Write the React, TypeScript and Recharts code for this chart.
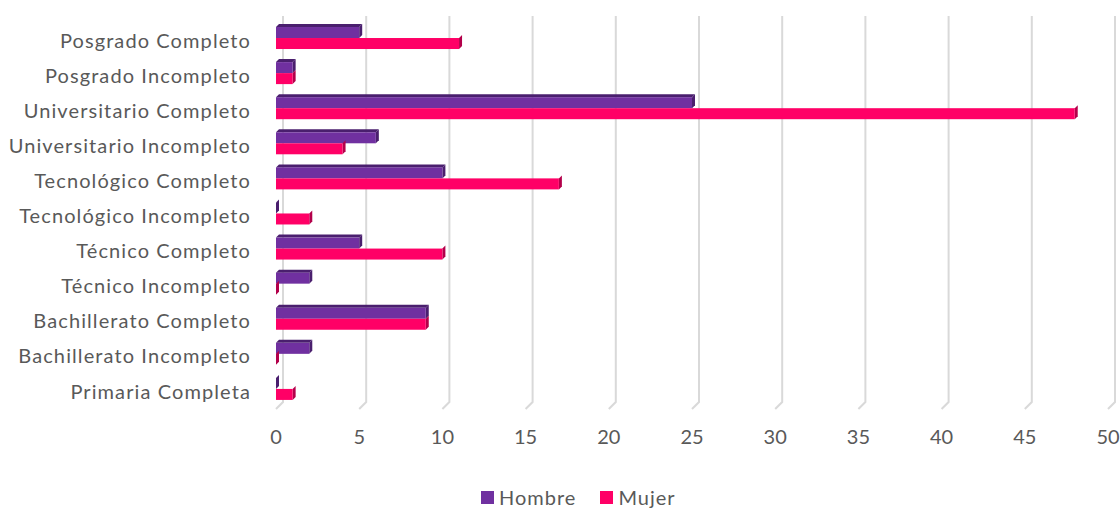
import { BarChart, Bar, XAxis, YAxis, CartesianGrid, Legend } from 'recharts';

// Nivel educativo por sexo
const CATEGORIES = [
  'Posgrado Completo',
  'Posgrado Incompleto',
  'Universitario Completo',
  'Universitario Incompleto',
  'Tecnológico Completo',
  'Tecnológico Incompleto',
  'Técnico Completo',
  'Técnico Incompleto',
  'Bachillerato Completo',
  'Bachillerato Incompleto',
  'Primaria Completa',
];
const HOMBRE = [5, 1, 25, 6, 10, 0, 5, 2, 9, 2, 0];
const MUJER = [11, 1, 48, 4, 17, 2, 10, 0, 9, 0, 1];
const X_TICKS = [0, 5, 10, 15, 20, 25, 30, 35, 40, 45, 50];

const SERIES = [
  { key: 'Hombre', color: '#7030A0', dark: '#4A1F6E', top: true },
  { key: 'Mujer', color: '#FF0066', dark: '#B3004A', top: false },
];

const FONT = 'Lato, "Open Sans", sans-serif';
const TEXT = '#595959';
const DEPTH = 3;
const WALL = 7;

const data = CATEGORIES.map((name, i) => ({ name, Hombre: HOMBRE[i], Mujer: MUJER[i] }));

// bar with a small extruded top and right side
function makeBar3D(color: string, dark: string, withTop: boolean) {
  return (props: any) => {
    const { x, y, width, height } = props;
    const w = Math.max(0, width || 0);
    const yy = y - 3;
    return (
      <g>
        {withTop && (
          <polygon
            points={`${x},${yy} ${x + DEPTH},${yy - DEPTH} ${x + w + DEPTH},${yy - DEPTH} ${x + w},${yy}`}
            fill={dark}
          />
        )}
        <polygon
          points={`${x + w},${yy} ${x + w + DEPTH},${yy - DEPTH} ${x + w + DEPTH},${yy + height - DEPTH} ${x + w},${yy + height}`}
          fill={dark}
        />
        {w > 0 && <rect x={x} y={yy} width={w} height={height} fill={color} />}
      </g>
    );
  };
}

// gridline on the back wall with a short foot down to the floor edge
function GridLine(props: any) {
  const { x1, y1, y2 } = props;
  return (
    <polyline
      points={`${x1 + WALL},${y1 - WALL} ${x1 + WALL},${y2 - WALL} ${x1},${y2}`}
      fill="none"
      stroke="#D9D9D9"
      strokeWidth={2}
    />
  );
}

function LegendContent() {
  return (
    <div
      style={{
        display: 'flex',
        alignItems: 'center',
        height: 30,
        paddingLeft: 481,
        paddingTop: 8,
        boxSizing: 'border-box',
        fontFamily: FONT,
        fontSize: 20,
        letterSpacing: 1,
        color: TEXT,
      }}
    >
      {SERIES.map((s) => (
        <div key={s.key} style={{ display: 'flex', alignItems: 'center', marginRight: 24 }}>
          <span style={{ width: 13, height: 13, background: s.color, marginRight: 5 }} />
          <span>{s.key}</span>
        </div>
      ))}
    </div>
  );
}

const yTickStyle = { fill: TEXT, fontSize: 20, fontFamily: FONT, letterSpacing: 1.1 };
const xTickStyle = { fill: TEXT, fontSize: 20, fontFamily: FONT };

export default function App() {
  return (
    <div style={{ position: 'absolute', left: 0, top: 0, width: 1120, height: 508, background: '#fff' }}>
      <BarChart
        width={1120}
        height={508}
        data={data}
        layout="vertical"
        margin={{ top: 23, right: 12, left: 0, bottom: 0 }}
        barCategoryGap="20%"
        barGap={0}
      >
        <CartesianGrid horizontal={false} vertical={GridLine} />
        <XAxis
          type="number"
          domain={[0, 50]}
          ticks={X_TICKS}
          axisLine={false}
          tickLine={false}
          tickMargin={15}
          height={69}
          tick={xTickStyle}
        />
        <YAxis
          type="category"
          dataKey="name"
          width={276}
          axisLine={false}
          tickLine={false}
          tickMargin={19}
          interval={0}
          tick={yTickStyle}
        />
        <Legend verticalAlign="bottom" content={<LegendContent />} />
        {SERIES.map((s) => (
          <Bar
            key={s.key}
            dataKey={s.key}
            fill={s.color}
            isAnimationActive={false}
            shape={makeBar3D(s.color, s.dark, s.top)}
          />
        ))}
      </BarChart>
    </div>
  );
}
